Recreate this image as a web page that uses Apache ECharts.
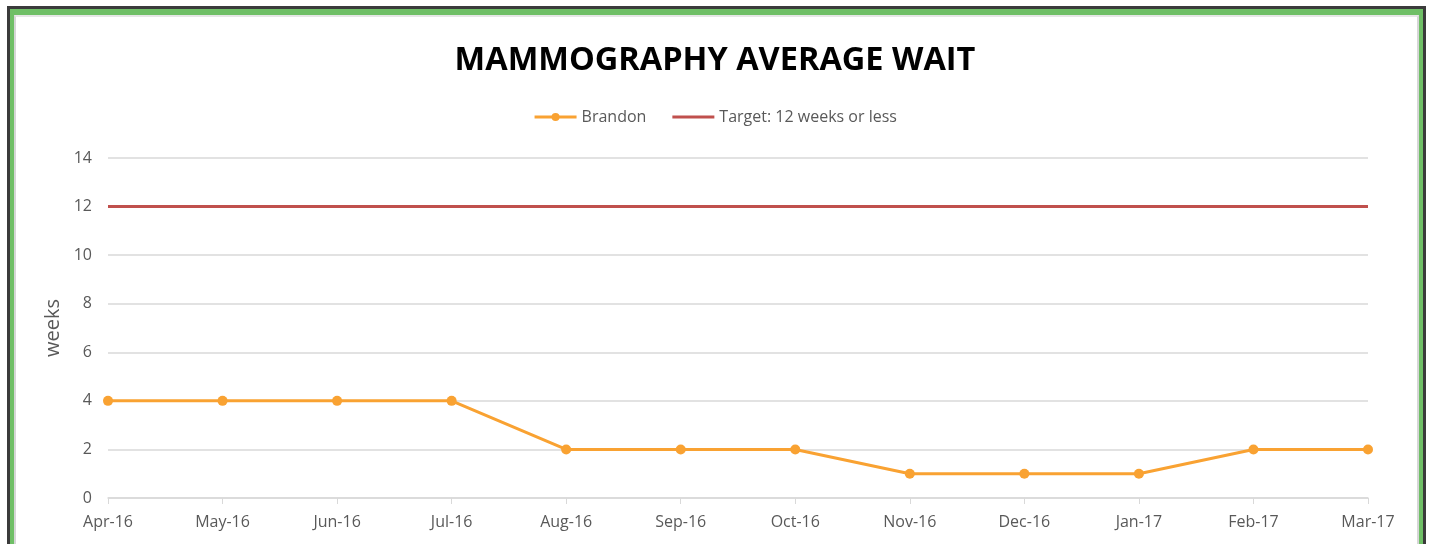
<!DOCTYPE html>
<html><head><meta charset="utf-8">
<script src="https://cdn.jsdelivr.net/npm/echarts@6/dist/echarts.min.js"></script>
<style>
html,body{margin:0;padding:0;background:#fff;width:1430px;height:544px;overflow:hidden;}
#frame{position:absolute;left:7px;top:6px;width:1413px;height:600px;border:3px solid #3b3b3b;background:#6fbf66;}
#inner{position:absolute;left:4px;top:6px;right:4px;bottom:0;border-left:2px solid #d6d6d6;border-top:2px solid #e6e6e6;border-right:2px solid #d6d6d6;background:#fff;}
#chart{position:absolute;left:0;top:0;width:1430px;height:544px;}
</style></head>
<body>
<div id="frame"><div id="inner"></div></div>
<div id="chart"></div>
<script>
const categories = ['Apr-16','May-16','Jun-16','Jul-16','Aug-16','Sep-16','Oct-16','Nov-16','Dec-16','Jan-17','Feb-17','Mar-17'];
const brandon = [4,4,4,4,2,2,2,1,1,1,2,2];
const target = [12,12,12,12,12,12,12,12,12,12,12,12];
const yTicks = {min:0, max:14, interval:2};

const chart = echarts.init(document.getElementById('chart'), null, {renderer:'canvas'});
const font = "'Open Sans', 'Noto Sans', sans-serif";
chart.setOption({
  backgroundColor: 'transparent',
  animation: false,
  title: {
    text: 'MAMMOGRAPHY AVERAGE WAIT',
    left: 'center', top: 39,
    textStyle: {fontFamily: font, fontWeight: 'bold', fontSize: 32.5, color: '#000'}
  },
  legend: {
    top: 104, left: 'center', itemGap: 26, itemWidth: 42, itemHeight: 10,
    textStyle: {fontFamily: font, fontSize: 16, color: '#595959'},
    data: [
      {name: 'Brandon', lineStyle: {width: 3}, itemStyle: {color: '#f9a232'}},
      {name: 'Target: 12 weeks or less', icon: 'path://M0,0 L40,0 L40,3 L0,3 Z', itemStyle: {color: '#c0504d'}}
    ]
  },
  grid: {left: 108, right: 62, top: 158, bottom: 46, containLabel: false},
  xAxis: {
    type: 'category', data: categories, boundaryGap: false,
    axisLine: {lineStyle: {color: '#d9d9d9', width: 1.5}},
    axisTick: {show: true, alignWithLabel: true, length: 6, lineStyle: {color: '#d9d9d9'}},
    axisLabel: {fontFamily: font, fontSize: 16, color: '#595959', margin: 16},
    splitLine: {show: false}
  },
  yAxis: {
    type: 'value', min: yTicks.min, max: yTicks.max, interval: yTicks.interval,
    name: 'weeks', nameLocation: 'middle', nameGap: 42,
    nameTextStyle: {fontFamily: font, fontSize: 20, color: '#595959'},
    axisLine: {show: false}, axisTick: {show: false},
    axisLabel: {fontFamily: font, fontSize: 16, color: '#595959', margin: 16},
    splitLine: {lineStyle: {color: '#d9d9d9', width: 1.5}}
  },
  series: [
    {
      name: 'Brandon', type: 'line', data: brandon,
      symbol: 'circle', symbolSize: 10,
      itemStyle: {color: '#f9a232'},
      lineStyle: {color: '#f9a232', width: 3}
    },
    {
      name: 'Target: 12 weeks or less', type: 'line', data: target,
      symbol: 'none', showSymbol: false,
      itemStyle: {color: '#c0504d'},
      lineStyle: {color: '#c0504d', width: 3}
    }
  ]
});
</script>
</body></html>
